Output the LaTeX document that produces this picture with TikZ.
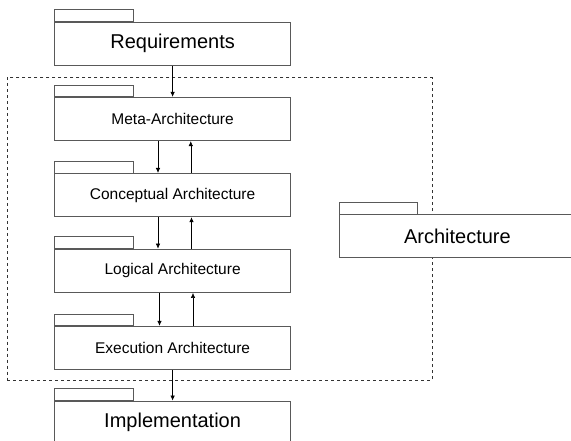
\documentclass[tikz,border=0pt]{standalone}
\usepackage{fontspec}
\setmainfont{Liberation Sans}
\usetikzlibrary{arrows.meta}
\newcommand{\pkgTab}[1]{\draw[pkgline] (#1.north west) rectangle ++(78.7pt,11.8pt);}
\newcommand{\smallLabel}[0]{\fontsize{15.5}{18}\selectfont}
\newcommand{\bigLabel}[0]{\fontsize{20}{24}\selectfont}

\begin{document}
\begin{tikzpicture}[>={Latex[length=5pt,width=4.5pt]}]
  \tikzset{pkgline/.style={draw=black!65,line width=0.8pt},
    pkgbody/.style={pkgline,fill=white,minimum width=236pt,minimum height=43.5pt,inner sep=0pt},
    flow/.style={->,line width=0.6pt}}
  \path[use as bounding box,clip] (0,0) rectangle (571pt,-441pt);
  % the dashed architecture frame
  \node[draw=black!80,dashed,line width=0.6pt,minimum width=424.7pt,minimum height=302.8pt] (frame) at (219.6pt,-229.1pt) {};
  % packages
  \node[pkgbody,font=\bigLabel] (req) at (172.6pt,-43.7pt) {Requirements};
  \node[pkgbody,font=\smallLabel] (meta) at (172.6pt,-119pt) {Meta-Architecture};
  \node[pkgbody,font=\smallLabel] (conc) at (172.6pt,-195.1pt) {Conceptual Architecture};
  \node[pkgbody,font=\smallLabel] (logi) at (172.6pt,-270.8pt) {Logical Architecture};
  \node[pkgbody,font=\smallLabel] (exec) at (172.6pt,-348pt) {Execution Architecture};
  \node[pkgbody,font=\bigLabel] (impl) at (172.6pt,-422.7pt) {Implementation};
  \node[pkgbody,font=\bigLabel] (arch) at (457.4pt,-236.1pt) {Architecture};
  \pkgTab{req}
  \pkgTab{meta}
  \pkgTab{conc}
  \pkgTab{logi}
  \pkgTab{exec}
  \pkgTab{impl}
  \pkgTab{arch}
  % dependencies
  \draw[flow] (req.south) -- (meta.north);
  \draw[flow] ([xshift=-14.6pt]meta.south) -- ([xshift=-14.6pt]conc.north);
  \draw[flow] ([xshift=18.2pt]conc.north) -- ([xshift=18.2pt]meta.south);
  \draw[flow] ([xshift=-14.6pt]conc.south) -- ([xshift=-14.6pt]logi.north);
  \draw[flow] ([xshift=18.9pt]logi.north) -- ([xshift=18.9pt]conc.south);
  \draw[flow] ([xshift=-13.1pt]logi.south) -- ([xshift=-13.1pt]exec.north);
  \draw[flow] ([xshift=20.4pt]exec.north) -- ([xshift=20.4pt]logi.south);
  \draw[flow] (exec.south) -- (impl.north);
\end{tikzpicture}
\end{document}
